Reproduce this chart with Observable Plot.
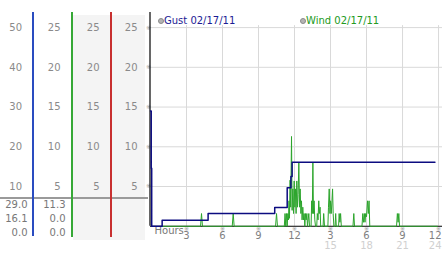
<!DOCTYPE html>
<html><head><meta charset="utf-8">
<script src="https://cdn.jsdelivr.net/npm/d3@7"></script>
<script src="https://cdn.jsdelivr.net/npm/@observablehq/plot@0.6"></script>
<style>
html,body{margin:0;padding:0;background:#fff;}
#wrap{position:relative;width:442px;height:253px;overflow:hidden;font-family:"DejaVu Sans",Verdana,sans-serif;font-size:10px;}
#wrap svg{position:absolute;left:0;top:0;}
.abs{position:absolute;}
.stat{position:absolute;text-align:right;line-height:14px;color:#777;}
.leg{position:absolute;line-height:12px;white-space:nowrap;}
.dot{position:absolute;width:4px;height:4px;border-radius:50%;background:#b4b4b4;border:1px solid #8a8a8a;}
</style></head><body>
<div id="wrap">
  <div class="abs" style="left:73px;top:15px;width:72px;height:225px;background:#f4f4f4"></div>
  <div class="abs" style="left:0;top:196.5px;width:148px;height:2px;background:#9a9a9a"></div>
  <div class="abs" style="left:32px;top:12px;width:2px;height:224px;background:#2a4cc0"></div>
  <div class="abs" style="left:71px;top:12px;width:2px;height:225px;background:#36a836"></div>
  <div class="abs" style="left:110px;top:12px;width:2px;height:225px;background:#c83030"></div>
  <div id="stats1" class="stat" style="left:0;top:197.5px;width:27.5px"></div>
  <div id="stats2" class="stat" style="left:34px;top:197.5px;width:31.5px"></div>
  <div class="dot" style="left:158px;top:18px"></div>
  <div id="leg1" class="leg" style="left:164px;top:14.5px;color:#1c1c94"></div>
  <div class="dot" style="left:300px;top:18px"></div>
  <div id="leg2" class="leg" style="left:306px;top:14.5px;color:#229a22"></div>
</div>
<script>
// ---- data ----
const gustLabel = "Gust 02/17/11";
const windLabel = "Wind 02/17/11";
const gustTicks = [10, 20, 30, 40, 50];
const windTicks = [5, 10, 15, 20, 25];
const hourTicks = [3, 6, 9, 12, 15, 18, 21, 24];
const gustStats = ["29.0", "16.1", "0.0"];
const windStats = ["11.3", "0.0", "0.0"];

const gustHours  = [0, 0.06, 0.1, 0.97, 4.8, 10.35, 11.39, 11.7, 11.8, 23.7];
const gustSpeeds = [29.0, 14.6, 0, 1.5, 3.2, 4.7, 9.7, 12.5, 16.1, 16.1];

const windHours = [0.95, 4.17, 4.25, 4.33, 6.81, 6.89, 6.97, 10.42, 10.5, 10.58,
  11.15, 11.21, 11.27, 11.33, 11.39, 11.44, 11.5, 11.54, 11.58, 11.63, 11.68, 11.75,
  11.8, 11.86, 11.92, 11.97, 12.03, 12.08, 12.13, 12.19, 12.25, 12.3, 12.36, 12.42,
  12.47, 12.53, 12.58, 12.63, 12.69, 12.75, 12.8, 12.86, 12.92, 12.97, 13.03, 13.08,
  13.19, 13.25, 13.38, 13.43, 13.48, 13.53, 13.58, 13.63, 13.69, 13.75, 13.85, 13.9,
  13.96, 14.02, 14.07, 14.13, 14.18, 14.38, 14.43, 14.5, 14.78, 14.83, 14.89, 14.95,
  15.0, 15.06, 15.12, 15.17, 15.22, 15.28, 15.38, 15.43, 15.48, 15.67, 15.72, 15.78,
  15.84, 15.9, 16.87, 16.94, 17.0, 17.62, 17.69, 17.75, 17.82, 17.87, 17.93, 18.0,
  18.08, 18.15, 18.21, 18.27, 20.5, 20.57, 20.63, 20.69, 20.75, 23.9];
const windSpeeds = [0, 0, 1.6, 0, 0, 1.6, 0, 0, 1.6, 0,
  0, 1.6, 0, 1.6, 0, 1.6, 0.8, 3.2, 1.0, 5.8, 2.4, 11.3,
  2.0, 4.7, 1.6, 5.7, 2.4, 4.7, 1.6, 5.7, 2.4, 4.0, 8.0, 2.4,
  4.7, 1.6, 3.2, 0.8, 2.4, 0.8, 1.6, 0, 1.6, 0.8, 1.6, 0,
  1.6, 0, 0, 3.2, 1.6, 8.0, 1.6, 3.2, 0.8, 0, 0, 1.6,
  0.8, 3.2, 1.6, 2.4, 0, 0, 1.6, 0, 0, 2.4, 4.7, 1.6,
  3.2, 1.6, 3.2, 4.7, 1.6, 0, 0, 1.6, 0, 0, 1.6, 0.5,
  1.6, 0, 0, 1.6, 0, 0, 1.6, 0.5, 1.6, 0.5, 1.6, 1.2,
  3.2, 1.6, 3.2, 0, 0, 1.6, 0.5, 1.6, 0, 0];

// ---- build ----
const gust = gustHours.map((h, i) => ({h, v: gustSpeeds[i]}));
const wind = windHours.map((h, i) => ({h, v: windSpeeds[i]}));
const windToGust = gustTicks[gustTicks.length - 1] / windTicks[windTicks.length - 1];
const yTop = 53.8;
const xMax = 24.33;
const lastHour = hourTicks[hourTicks.length - 1];

document.getElementById("stats1").innerHTML = gustStats.join("<br>");
document.getElementById("stats2").innerHTML = windStats.join("<br>");
document.getElementById("leg1").textContent = gustLabel;
document.getElementById("leg2").textContent = windLabel;

const colText = (dx, fmt) => Plot.text(gustTicks, {
  y: d => d, frameAnchor: "left", dx, textAnchor: "end", text: fmt, fill: "#8a8a8a"
});
const inner = hourTicks.filter(d => d < lastHour);

const chart = Plot.plot({
  width: 442, height: 253,
  marginLeft: 150, marginRight: 0, marginTop: 12, marginBottom: 27.25,
  x: {domain: [0, xMax], axis: null},
  y: {domain: [0, yTop], axis: null},
  style: {background: "transparent", fontFamily: "DejaVu Sans, Verdana, sans-serif", fontSize: "10px", overflow: "visible"},
  marks: [
    Plot.ruleY(gustTicks, {y: d => d, stroke: "#d9d9d9", strokeWidth: 1}),
    Plot.ruleX(hourTicks, {x: d => d, y1: 0, y2: 50.5, stroke: "#d9d9d9", strokeWidth: 1}),
    colText(-128.5, d => String(d)),
    colText(-90, d => String(d / windToGust)),
    colText(-51, d => String(d / windToGust)),
    colText(-13, d => String(d / windToGust)),
    Plot.text(gustTicks, {y: d => d, frameAnchor: "left", dx: -4.5, text: () => "※", fontSize: 6, fill: "#999"}),
    Plot.text(hourTicks, {x: d => d, frameAnchor: "bottom", dy: 4.5, text: () => "※", fontSize: 6, fill: "#999"}),
    Plot.text(inner, {x: d => d, frameAnchor: "bottom", dy: 13, text: d => String(d > 12 ? d - 12 : d), fill: "#808080"}),
    Plot.text(inner.filter(d => d > 12), {x: d => d, frameAnchor: "bottom", dy: 22.5, text: d => String(d), fill: "#d0d0d0"}),
    Plot.text([lastHour], {x: d => d, frameAnchor: "bottom", dy: 13, dx: 3, textAnchor: "end", text: d => String(d - 12), fill: "#808080"}),
    Plot.text([lastHour], {x: d => d, frameAnchor: "bottom", dy: 22.5, dx: 3, textAnchor: "end", text: d => String(d), fill: "#d0d0d0"}),
    Plot.text(["Hours"], {frameAnchor: "bottom-left", dx: 4, dy: 7.5, textAnchor: "start", fill: "#777"}),
    Plot.ruleY([0], {stroke: "#000", strokeWidth: 1.2}),
    Plot.ruleX([0], {stroke: "#000", strokeWidth: 1.2, dx: -0.5}),
    Plot.line(wind, {x: "h", y: d => d.v * windToGust, stroke: "#2ca52c", strokeWidth: 1}),
    Plot.line(gust, {x: "h", y: "v", curve: "step-after", stroke: "#0c0c80", strokeWidth: 1.5})
  ]
});
document.getElementById("wrap").appendChild(chart);
</script>
</body></html>
